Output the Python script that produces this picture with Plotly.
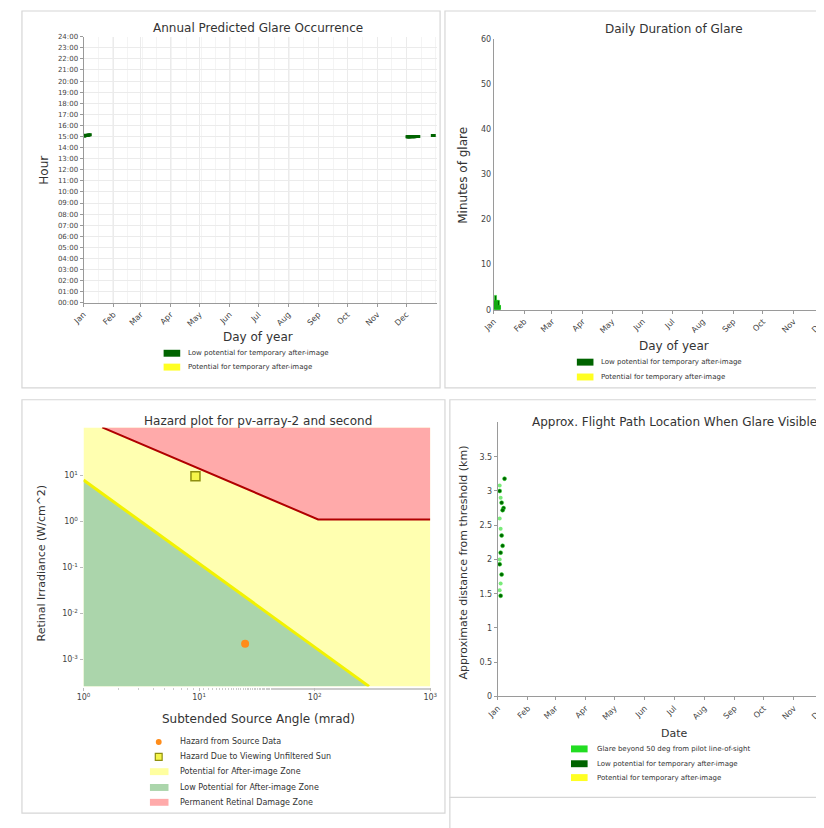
import plotly.graph_objects as go

W, H = 824, 828
OFF = 8  # page body margin


def px(x):
    return (x - OFF) / W


def py(y):
    return 1 - (y - OFF) / H


FONT = "DejaVu Sans"
DARK_GREEN = "#006400"
LIGHT_GREEN = "#22dd22"
YELLOW = "#ffff22"

# ---------------- data ----------------
months = ["Jan", "Feb", "Mar", "Apr", "May", "Jun", "Jul", "Aug", "Sep", "Oct", "Nov", "Dec"]
month_start_day = [0, 31, 59, 90, 120, 151, 181, 212, 243, 273, 304, 334]
hour_ticks = list(range(25))
hour_labels = ["00:00", "01:00", "02:00", "03:00", "04:00", "05:00", "06:00", "07:00",
               "08:00", "09:00", "10:00", "11:00", "12:00", "13:00", "14:00", "15:00",
               "16:00", "17:00", "18:00", "19:00", "20:00", "21:00", "22:00", "23:00", "24:00"]

# glare occurrences: day of year, start hour, minutes of glare
glare_day = [1, 2, 3, 4, 5, 6, 7,
             335, 336, 337, 338, 339, 340, 341, 342, 343, 344, 345, 346, 347,
             361, 362, 363]
glare_start_hour = [15.05, 15.07, 15.08, 15.10, 15.12, 15.13, 15.15,
                    14.97, 14.97, 14.97, 14.97, 14.98, 14.98, 14.98, 14.98, 14.98, 14.99, 14.99, 14.99, 15.00,
                    15.08, 15.08, 15.10]
glare_minutes = [2, 3, 2, 2, 2, 1, 1,
                 2, 2, 2, 2, 2, 2, 2, 1, 1, 1, 1, 1, 1,
                 1, 1, 1]

# hazard plot
haz_x_log_range = [0, 3]
haz_y_log_range = [-3.59, 2.04]
burn_x = [1.45, 107, 1000]
burn_y = [110, 1.1, 1.1]
after_x = [1.0, 295]
after_y = [7.9, 0.00026]
source_x = [25]
source_y = [0.0022]
sun_x = [9.3]
sun_y = [9.5]

# flight path
flight_day = [7, 2, 4, 6, 5, 4, 5, 3, 2, 4, 3]
flight_km = [3.18, 3.00, 2.83, 2.75, 2.72, 2.35, 2.20, 2.10, 1.93, 1.78, 1.47]
flight_wide_day = [2, 3, 2, 3, 2, 3, 2]
flight_wide_km = [3.08, 2.90, 2.60, 2.45, 2.00, 1.65, 1.55]

fig = go.Figure()

# ---------------- panel 1: annual occurrence ----------------
occ_x, occ_y = [], []
for d, h, m in zip(glare_day, glare_start_hour, glare_minutes):
    for k in range(m):
        occ_x.append(d)
        occ_y.append(h + k / 60.0)
fig.add_trace(go.Scatter(x=occ_x, y=occ_y, mode="markers", xaxis="x", yaxis="y",
                         marker=dict(color=DARK_GREEN, size=3, symbol="square"),
                         showlegend=False, hoverinfo="skip"))

# ---------------- panel 2: daily duration ----------------
fig.add_trace(go.Bar(x=glare_day, y=glare_minutes, xaxis="x2", yaxis="y2", width=1.2,
                     marker=dict(color=DARK_GREEN, line=dict(width=0.6, color=LIGHT_GREEN)),
                     showlegend=False))

# ---------------- panel 3: hazard plot ----------------
xmin, xmax = 10 ** haz_x_log_range[0], 10 ** haz_x_log_range[1]
ymin, ymax = 10 ** haz_y_log_range[0], 10 ** haz_y_log_range[1]
fig.add_trace(go.Scatter(x=[xmin, xmax, xmax, xmin, xmin], y=[ymin, ymin, ymax, ymax, ymin],
                         fill="toself", fillcolor="#ffffb0", line=dict(width=0), mode="lines",
                         xaxis="x3", yaxis="y3", showlegend=False, hoverinfo="skip"))
fig.add_trace(go.Scatter(x=[after_x[0]] + after_x + [after_x[0]],
                         y=[ymin] + after_y + [ymin],
                         fill="toself", fillcolor="#abd5ab", line=dict(width=0), mode="lines",
                         xaxis="x3", yaxis="y3", showlegend=False, hoverinfo="skip"))
fig.add_trace(go.Scatter(x=burn_x + [xmax, burn_x[0]],
                         y=burn_y + [ymax, ymax],
                         fill="toself", fillcolor="#ffaaaa", line=dict(width=0), mode="lines",
                         xaxis="x3", yaxis="y3", showlegend=False, hoverinfo="skip"))
fig.add_trace(go.Scatter(x=after_x, y=after_y, mode="lines", line=dict(color="#f2f200", width=3),
                         xaxis="x3", yaxis="y3", showlegend=False, hoverinfo="skip"))
fig.add_trace(go.Scatter(x=burn_x, y=burn_y, mode="lines", line=dict(color="#b00000", width=2),
                         xaxis="x3", yaxis="y3", showlegend=False, hoverinfo="skip"))
fig.add_trace(go.Scatter(x=source_x, y=source_y, mode="markers",
                         marker=dict(color="#ff8c1a", size=8, symbol="circle"),
                         xaxis="x3", yaxis="y3", showlegend=False))
fig.add_trace(go.Scatter(x=sun_x, y=sun_y, mode="markers",
                         marker=dict(color="#f5f54a", size=9, symbol="square",
                                     line=dict(color="#8f8f10", width=1.5)),
                         xaxis="x3", yaxis="y3", showlegend=False))

# ---------------- panel 4: flight path ----------------
fig.add_trace(go.Scatter(x=flight_wide_day, y=flight_wide_km, mode="markers",
                         marker=dict(color=LIGHT_GREEN, size=4, opacity=0.6),
                         xaxis="x4", yaxis="y4", showlegend=False))
fig.add_trace(go.Scatter(x=flight_day, y=flight_km, mode="markers",
                         marker=dict(color=DARK_GREEN, size=4,
                                     line=dict(color=LIGHT_GREEN, width=0.5)),
                         xaxis="x4", yaxis="y4", showlegend=False))

tickfont = dict(family=FONT, size=7, color="#444")
monthfont = dict(family=FONT, size=8, color="#444")
axis_line = dict(showline=True, linecolor="#9a9a9a", linewidth=1, zeroline=False)

fig.update_layout(
    width=W, height=H, margin=dict(l=0, r=0, t=0, b=0),
    paper_bgcolor="white", plot_bgcolor="white",
    font=dict(family=FONT, color="#333"),
    showlegend=False, bargap=0,
    xaxis=dict(domain=[px(73), px(435)], anchor="y", range=[0, 366],
               tickvals=month_start_day, ticktext=months, tickangle=-45,
               tickfont=monthfont, showgrid=True, gridcolor="#ebebeb",
               ticks="outside", ticklen=3, tickcolor="#9a9a9a",
               minor=dict(dtick=15.2, tick0=0, showgrid=True, gridcolor="#f4f4f4"),
               **axis_line),
    yaxis=dict(domain=[py(302), py(33)], anchor="x", range=[0, 24],
               tickvals=hour_ticks, ticktext=hour_labels, tickfont=tickfont,
               showgrid=True, gridcolor="#ebebeb", ticks="outside", ticklen=3,
               tickcolor="#9a9a9a", **axis_line),
    xaxis2=dict(domain=[px(493), 1.0], anchor="y2", range=[0, 336],
                tickvals=month_start_day, ticktext=months, tickangle=-45,
                tickfont=monthfont, showgrid=False, ticks="outside", ticklen=3,
                tickcolor="#9a9a9a", **axis_line),
    yaxis2=dict(domain=[py(309), py(35)], anchor="x2", range=[0, 60], dtick=10,
                tickfont=monthfont, showgrid=False, ticks="", **axis_line),
    xaxis3=dict(domain=[px(73), px(428)], anchor="y3", type="log", range=haz_x_log_range,
                tickvals=[1, 10, 100, 1000],
                ticktext=["10<sup>0</sup>", "10<sup>1</sup>", "10<sup>2</sup>", "10<sup>3</sup>"],
                tickfont=dict(family=FONT, size=8, color="#444"), showgrid=False,
                ticks="outside", ticklen=3, tickcolor="#bbbbbb", showline=False, zeroline=False,
                minor=dict(ticks="outside", ticklen=2, tickcolor="#cccccc", showgrid=False)),
    yaxis3=dict(domain=[py(690), py(428)], anchor="x3", type="log", range=haz_y_log_range,
                tickvals=[0.001, 0.01, 0.1, 1, 10],
                ticktext=["10<sup>-3</sup>", "10<sup>-2</sup>", "10<sup>-1</sup>",
                          "10<sup>0</sup>", "10<sup>1</sup>"],
                tickfont=dict(family=FONT, size=8, color="#444"),
                showgrid=True, gridcolor="rgba(190,190,190,0.45)", griddash="dash",
                ticks="outside", ticklen=3, tickcolor="#bbbbbb", showline=False, zeroline=False),
    xaxis4=dict(domain=[px(497), 1.0], anchor="y4", range=[0, 336],
                tickvals=month_start_day, ticktext=months, tickangle=-45,
                tickfont=monthfont, showgrid=False, ticks="outside", ticklen=3,
                tickcolor="#9a9a9a", **axis_line),
    yaxis4=dict(domain=[py(700), py(423)], anchor="x4", range=[0, 4.0],
                tickvals=[0, 0.5, 1, 1.5, 2, 2.5, 3, 3.5],
                tickfont=monthfont, showgrid=False, ticks="outside", ticklen=3,
                tickcolor="#9a9a9a", **axis_line),
)

shapes = []
annotations = []

# panel frames
frame = dict(type="rect", xref="paper", yref="paper", line=dict(color="#d6d6d6", width=1.2),
             fillcolor="rgba(0,0,0,0)", layer="below")
for (x0, y0, x1, y1) in [(10, 7, 438, 388), (443, 7, 840, 388), (10, 400, 443, 818), (448, 400, 840, 802)]:
    shapes.append(dict(frame, x0=px(x0), x1=px(x1), y0=py(y1), y1=py(y0)))
shapes.append(dict(type="line", xref="paper", yref="paper", x0=px(448), x1=px(448),
                   y0=py(836), y1=py(802), line=dict(color="#d6d6d6", width=1.2)))


def text(x, y, s, size=8, anchor="left", angle=0, color="#333"):
    annotations.append(dict(x=px(x), y=py(y), xref="paper", yref="paper", text=s,
                            showarrow=False, xanchor=anchor, yanchor="middle",
                            textangle=angle, font=dict(family=FONT, size=size, color=color)))


# titles
text(252, 24, "Annual Predicted Glare Occurrence", 12, "center")
text(677, 25, "Daily Duration of Glare", 12, "center")
text(252, 421, "Hazard plot for pv-array-2 and second", 12, "center")
text(678, 422, "Approx. Flight Path Location When Glare Visible", 12, "center")

# axis titles
text(33, 168, "Hour", 12, "center", -90)
text(252, 337, "Day of year", 12, "center")
text(462, 173, "Minutes of glare", 12, "center", -90)
text(677, 346, "Day of year", 12, "center")
text(30, 565, "Retinal Irradiance (W/cm^2)", 11, "center", -90)
text(252, 723, "Subtended Source Angle (mrad)", 12, "center")
text(462, 565, "Approximate distance from threshold (km)", 11, "center", -90)
text(678, 737, "Date", 11, "center")


def patch(x0, yc, color, w=17, h=7):
    shapes.append(dict(type="rect", xref="paper", yref="paper", x0=px(x0), x1=px(x0 + w),
                       y0=py(yc + h / 2), y1=py(yc - h / 2), fillcolor=color,
                       line=dict(width=0)))


# legend panel 1
patch(155, 353, DARK_GREEN)
text(178, 353, "Low potential for temporary after-image", 7)
patch(155, 367, YELLOW)
text(178, 367, "Potential for temporary after-image", 7)

# legend panel 2
patch(578, 362, DARK_GREEN)
text(601, 362, "Low potential for temporary after-image", 7)
patch(578, 377, YELLOW)
text(601, 377, "Potential for temporary after-image", 7)

# legend panel 3
shapes.append(dict(type="circle", xref="paper", yref="paper", x0=px(147), x1=px(153),
                   y0=py(749), y1=py(743), fillcolor="#ff8c1a", line=dict(width=0)))
shapes.append(dict(type="rect", xref="paper", yref="paper", x0=px(146.5), x1=px(153.5),
                   y0=py(764.5), y1=py(757.5), fillcolor="#f5f54a",
                   line=dict(color="#8f8f10", width=1.2)))
patch(141, 776, "#ffffa0", w=19)
patch(141, 792, "#abd5ab", w=19)
patch(141, 807, "#ffaaaa", w=19)
text(170, 746, "Hazard from Source Data", 8)
text(170, 761, "Hazard Due to Viewing Unfiltered Sun", 8)
text(170, 776, "Potential for After-image Zone", 8)
text(170, 792, "Low Potential for After-image Zone", 8)
text(170, 807, "Permanent Retinal Damage Zone", 8)

# legend panel 4
patch(572, 753, LIGHT_GREEN)
text(597, 753, "Glare beyond 50 deg from pilot line-of-sight", 7)
patch(572, 768, DARK_GREEN)
text(597, 768, "Low potential for temporary after-image", 7)
patch(572, 782, YELLOW)
text(597, 782, "Potential for temporary after-image", 7)

fig.update_layout(shapes=shapes, annotations=annotations)
fig.write_html("out.html")
